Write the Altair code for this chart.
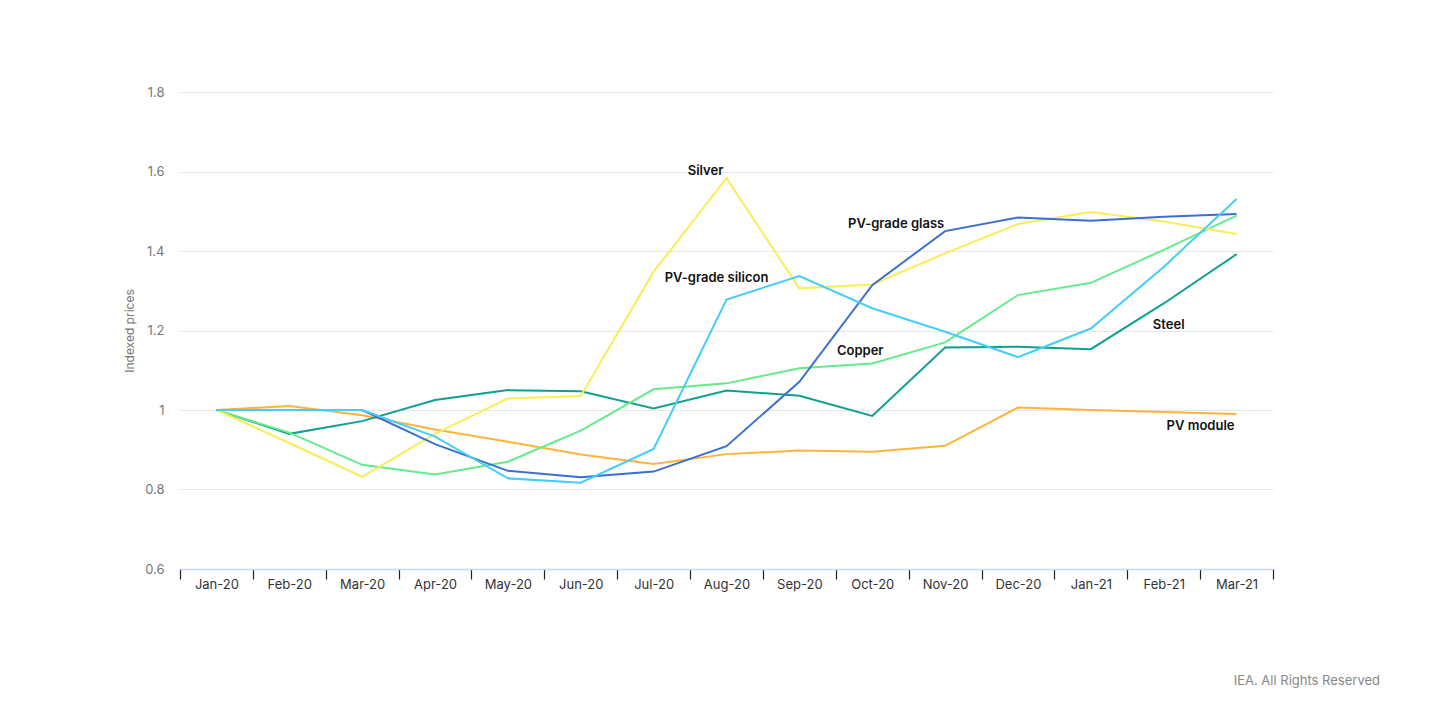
import altair as alt
import pandas as pd

months = ["Jan-20", "Feb-20", "Mar-20", "Apr-20", "May-20", "Jun-20", "Jul-20",
          "Aug-20", "Sep-20", "Oct-20", "Nov-20", "Dec-20", "Jan-21", "Feb-21", "Mar-21"]

silver = [1.0, 0.917, 0.832, 0.94, 1.029, 1.035, 1.348, 1.583, 1.306, 1.316, 1.394, 1.468, 1.498, 1.474, 1.443]
pv_module = [1.0, 1.010, 0.987, 0.951, 0.920, 0.888, 0.864, 0.889, 0.898, 0.895, 0.910, 1.006, 1.0, 0.995, 0.990]
steel = [1.0, 0.940, 0.972, 1.025, 1.050, 1.047, 1.004, 1.049, 1.036, 0.985, 1.157, 1.159, 1.153, 1.268, 1.392]
copper = [1.0, 0.943, 0.862, 0.838, 0.870, 0.948, 1.052, 1.067, 1.105, 1.117, 1.170, 1.289, 1.320, 1.403, 1.489]
glass = [1.0, 1.0, 1.0, 0.914, 0.847, 0.831, 0.845, 0.909, 1.071, 1.314, 1.450, 1.484, 1.476, 1.486, 1.493]
silicon = [1.0, 1.0, 1.0, 0.933, 0.828, 0.817, 0.902, 1.278, 1.337, 1.256, 1.197, 1.133, 1.205, 1.360, 1.531]

series_names = ["PV module", "Steel", "Copper", "Silver", "PV-grade glass", "PV-grade silicon"]
series_values = [pv_module, steel, copper, silver, glass, silicon]
series_colors = ["#fdb33d", "#10a090", "#66eb8c", "#fbed55", "#3b6fd4", "#44cdf8"]

credit = "IEA. All Rights Reserved"

# annotation anchors: (series, month, dx, dy)
annotations = [
    ("Silver", "Aug-20", -21, -7),
    ("PV-grade silicon", "Aug-20", -10, -21),
    ("PV-grade glass", "Nov-20", -49, -7),
    ("Copper", "Oct-20", -12, -12),
    ("Steel", "Feb-21", 5, 22),
    ("PV module", "Mar-21", -36, 12),
]

rows = []
for name, vals in zip(series_names, series_values):
    for m, v in zip(months, vals):
        rows.append({"series": name, "month": m, "value": v})
df = pd.DataFrame(rows)

FONT = "Inter"

xscale = alt.Scale(type="band", domain=months, paddingInner=0, paddingOuter=0)
yscale = alt.Scale(domain=[0.6, 1.8], nice=False, zero=False)

x_enc = alt.X(
    "month:O", scale=xscale, sort=months, bandPosition=0.5,
    axis=alt.Axis(
        title=None, labelAngle=0, tickBand="extent", ticks=True, tickColor="#222222",
        tickSize=10, tickWidth=1.2, domainColor="#ccd6eb", domainWidth=1.5, grid=False,
        labelColor="#333333", labelFontSize=13, labelFont=FONT, labelPadding=-1,
    ),
)
y_enc = alt.Y(
    "value:Q", scale=yscale,
    axis=alt.Axis(
        title="Indexed prices", values=[0.6, 0.8, 1.0, 1.2, 1.4, 1.6, 1.8], format="~g",
        domain=False, ticks=False, grid=True, gridColor="#e6e6e6", gridWidth=1,
        labelColor="#777777", labelFontSize=13, labelFont=FONT, labelPadding=16,
        titleColor="#777777", titleFontSize=12, titleFont=FONT, titleFontWeight="normal",
        titlePadding=8,
    ),
)

lines = alt.Chart(df).mark_line(strokeWidth=2).encode(
    x=x_enc,
    y=y_enc,
    color=alt.Color("series:N", scale=alt.Scale(domain=series_names, range=series_colors), legend=None),
    detail="series:N",
)

layers = [lines]
for name, month, dx, dy in annotations:
    sub = df[(df["series"] == name) & (df["month"] == month)].assign(label=name)
    layers.append(
        alt.Chart(sub).mark_text(
            align="center", baseline="middle", dx=dx, dy=dy, font=FONT,
            fontSize=13, fontWeight=600, color="#111111",
        ).encode(
            x=alt.X("month:O", scale=xscale, sort=months, bandPosition=0.5),
            y=alt.Y("value:Q", scale=yscale),
            text="label:N",
        )
    )

chart = alt.layer(*layers).properties(
    width=1093, height=477,
    autosize=alt.AutoSizeParams(type="none"),
    padding={"left": 172, "top": 84, "right": 148, "bottom": 127},
    title=alt.TitleParams(
        credit, orient="bottom", anchor="end", frame="group", dx=107, offset=84,
        font=FONT, fontSize=13, fontWeight="normal", color="#888888",
    ),
).configure_view(stroke=None)

chart.save("out.html", embed_options={"renderer": "svg", "actions": False})
